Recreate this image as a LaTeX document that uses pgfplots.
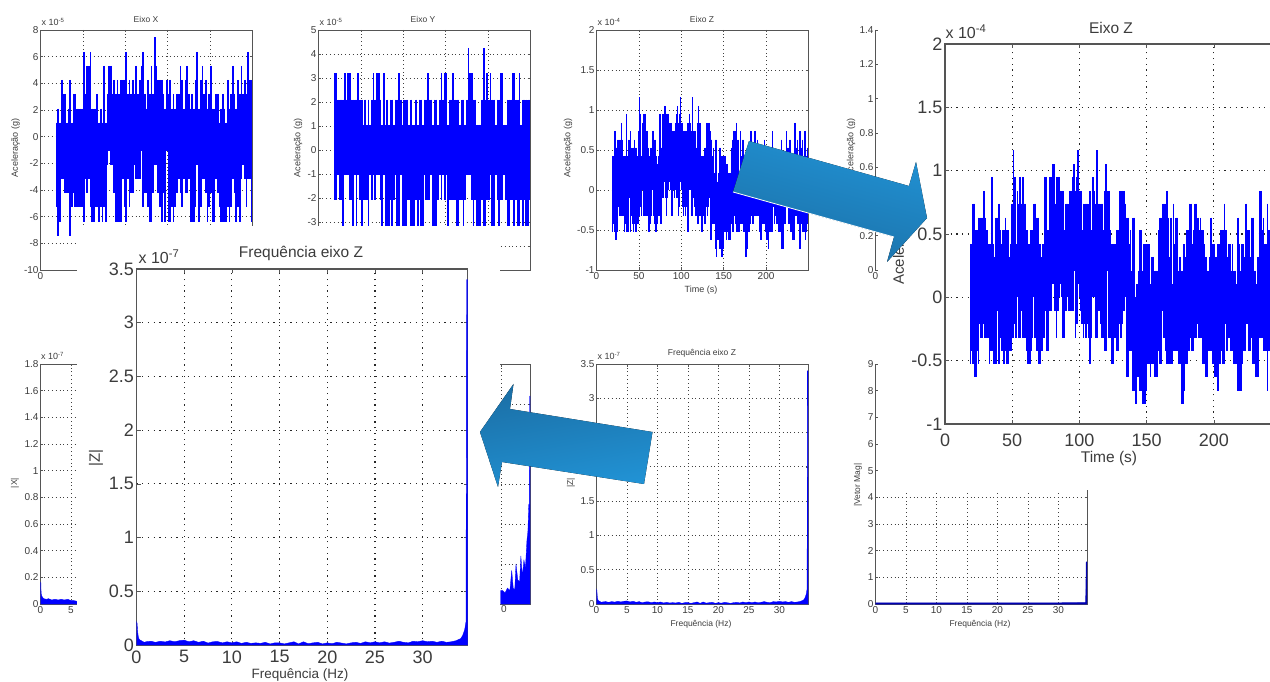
\documentclass[border=0pt]{standalone}
\usepackage{fontspec}
\setmainfont{Liberation Sans}
\usepackage{pgfplots}
\usepackage{pgfplotstable}
\pgfplotsset{compat=1.18}
\definecolor{ink}{HTML}{3C3C3C}
\definecolor{spine}{HTML}{555555}
\definecolor{arrowdark}{HTML}{1B6FA6}
\definecolor{arrowlight}{HTML}{2192D4}
\pgfplotstableread{
t hi lo
19 .42 -.53
20 .42 -.42
21 .74 -.53
22 .74 -.63
23 .53 -.63
24 .53 -.42
25 .63 -.53
26 .63 -.21
27 .63 -.32
28 .63 -.32
29 .84 -.21
30 .63 -.32
31 .53 -.32
32 .42 -.32
33 .42 -.53
34 .42 -.42
35 .95 -.42
36 .42 -.53
37 .32 -.53
38 .63 -.53
39 .63 -.105
40 .74 -.53
41 .53 -.32
42 .42 -.42
43 .53 -.42
44 .53 -.53
45 .63 -.42
46 .53 -.53
47 .53 -.53
48 .32 -.42
49 .42 -.42
50 .74 -.32
51 1.16 -.32
52 .95 -.21
53 .42 -.32
54 .84 0
55 .74 -.32
56 .95 -.32
57 .74 -.105
58 .95 -.32
59 .74 -.32
60 .74 -.32
61 .53 -.42
62 .42 -.53
63 .42 -.53
64 .53 -.42
65 .53 -.32
66 .74 0
67 .74 -.32
68 .63 -.42
69 .63 -.42
70 .42 -.53
71 .42 -.53
72 .32 -.42
73 .42 -.32
74 .95 -.32
75 .95 -.105
76 .53 -.42
77 .53 -.42
78 .95 -.105
79 .95 -.105
80 1.05 .105
81 1.05 .105
82 .74 -.105
83 .95 -.32
84 .95 -.105
85 .95 0
86 .84 .105
87 .84 0
88 .84 -.32
89 .53 -.32
90 .74 -.105
91 .74 0
92 .74 -.105
93 .84 0
94 .84 -.105
95 .95 -.105
96 1.05 .21
97 .84 -.32
98 .95 -.21
99 1.16 .105
100 .84 0
101 .84 -.105
102 .53 -.21
103 .74 -.32
104 .74 -.21
105 .74 -.32
106 .74 -.21
107 .74 -.32
108 .84 -.53
109 .53 -.32
110 .95 0
111 .84 0
112 .74 -.32
113 1.16 -.32
114 .74 -.105
115 .74 -.105
116 .74 -.21
117 .74 -.32
118 .53 -.32
119 .84 -.42
120 1.05 -.42
121 .84 .21
122 .84 -.32
123 .53 -.32
124 .42 -.53
125 .42 -.53
126 .42 -.32
127 .42 -.32
128 .53 -.42
129 .53 -.42
130 .84 -.21
131 .84 -.32
132 .84 -.21
133 .84 -.105
134 .74 0
135 .63 -.63
136 .63 -.63
137 .42 -.42
138 .53 -.42
139 .21 -.42
140 .63 -.74
141 .63 -.74
142 0 -.84
143 .105 -.63
144 .21 -.63
145 .53 -.74
146 .53 -.74
147 .21 -.84
148 .42 -.84
149 .42 -.84
150 .42 -.74
151 .42 -.53
152 .42 -.53
153 .105 -.63
154 .32 -.53
155 .32 -.53
156 .21 -.63
157 .21 -.63
158 .21 -.63
159 .53 -.42
160 .63 -.53
161 .63 -.53
162 .74 -.105
163 .74 -.32
164 .74 -.42
165 .84 -.53
166 .63 -.53
167 .32 -.53
168 .63 -.53
169 .105 -.53
170 .74 -.42
171 .42 -.42
172 .63 -.42
173 .63 -.42
174 .21 -.53
175 .32 -.53
176 .21 -.84
177 .21 -.84
178 .42 -.74
179 .32 -.53
180 .53 -.53
181 .53 -.42
182 .74 -.42
183 .74 -.32
184 .42 -.42
185 .53 -.42
186 .74 -.32
187 .74 -.32
188 .63 -.21
189 .53 -.32
190 .63 -.32
191 .53 -.32
192 .53 -.53
193 .42 -.53
194 .32 -.63
195 .21 -.63
196 .21 -.42
197 .32 -.42
198 .63 -.42
199 .42 -.53
200 .42 -.53
201 .32 -.63
202 .32 -.63
203 .42 -.74
204 .42 -.53
205 .53 -.53
206 .53 -.42
207 .53 -.53
208 .74 -.53
209 .53 -.21
210 .32 -.42
211 .42 -.32
212 .42 -.32
213 .21 -.42
214 .42 -.42
215 .21 -.53
216 .21 -.53
217 .105 -.53
218 .63 -.74
219 .42 -.74
220 .21 -.74
221 .42 -.53
222 .42 -.42
223 .32 -.42
224 .74 -.21
225 .53 -.21
226 .53 -.42
227 .32 -.42
228 .63 -.32
229 .63 -.53
230 .21 -.53
231 .21 -.63
232 .105 -.63
233 .32 -.63
234 .84 -.32
235 .84 -.32
236 .53 -.32
237 .63 -.42
238 .42 -.42
239 .42 -.42
240 .74 -.74
241 .53 -.42
242 .53 -.42
243 .63 -.53
244 .42 -.53
245 .53 -.42
246 .74 -.53
247 .53 -.63
248 .42 -.53
249 .53 -.42
}\tabZ
\pgfplotstableread{
t hi lo
19 1.05 -5.3
21 2.1 -7.45
23 1.05 -6.4
25 4.25 -3.2
27 3.2 -3.2
29 3.2 -4.25
31 1.05 -4.25
33 2.1 -4.25
35 4.25 -7.45
37 1.05 -5.3
39 3.2 -4.25
41 3.2 -5.3
43 2.1 -5.3
45 2.1 -5.3
47 2.1 -5.3
49 2.1 -5.3
51 6.35 -6.4
53 3.2 -3.2
55 5.3 -4.25
57 5.3 -3.2
59 6.35 -5.3
61 2.1 -6.4
63 2.1 -6.4
65 2.1 -5.3
67 3.2 -5.3
69 1.05 -6.4
71 2.1 -5.3
73 1.05 -6.4
75 5.3 -5.3
77 1.05 -6.4
79 3.2 -2.1
81 5.3 -1.05
83 5.3 -2.1
85 3.2 -2.1
87 4.25 -4.25
89 3.2 -6.4
91 4.25 -6.4
93 3.2 -6.4
95 4.25 -6.4
97 4.25 -3.2
99 4.25 -5.3
101 6.35 -6.4
103 3.2 -3.2
105 4.25 -5.3
107 3.2 -4.25
109 4.25 -4.25
111 3.2 -2.1
113 5.3 -3.2
115 3.2 -3.2
117 4.25 -3.2
119 5.3 -1.05
121 6.35 -5.3
123 3.2 -4.25
125 2.1 -4.25
127 4.25 -5.3
129 3.2 -6.4
131 5.3 -6.4
133 3.2 -4.25
135 7.45 -2.1
137 5.3 -2.1
139 4.25 -4.25
141 4.25 -5.3
143 4.25 -6.4
145 3.2 -4.25
147 2.1 -6.4
149 4.25 -1.05
151 3.2 -6.4
153 4.25 -6.4
155 2.1 -5.3
157 3.2 -6.4
159 2.1 -5.3
161 3.2 -4.25
163 3.2 -3.2
165 5.3 -4.25
167 4.25 -5.3
169 2.1 -3.2
171 4.25 -4.25
173 5.3 -4.25
175 3.2 -3.2
177 2.1 -6.4
179 3.2 -6.4
181 2.1 -6.4
183 4.25 -5.3
185 6.35 -2.1
187 2.1 -6.4
189 4.25 -5.3
191 5.3 -3.2
193 3.2 -3.2
195 4.25 -4.25
197 2.1 -6.4
199 3.2 -5.3
201 5.3 -4.25
203 2.1 -6.4
205 2.1 -6.4
207 3.2 -3.2
209 3.2 -4.25
211 1.05 -5.3
213 2.1 -6.4
215 3.2 -6.4
217 2.1 -6.4
219 1.05 -6.4
221 4.25 -5.3
223 2.1 -6.4
225 3.2 -5.3
227 5.3 -3.2
229 3.2 -4.25
231 2.1 -6.4
233 4.25 -5.3
235 3.2 -6.4
237 5.3 -3.2
239 3.2 -2.1
241 4.25 -3.2
243 3.2 -5.3
245 6.35 -3.2
247 4.25 -3.2
249 4.25 -6.4
}\tabX
\pgfplotstableread{
t hi lo
19 3.2 -2.1
21 3.2 -2.1
23 2.1 -1.05
25 2.1 -2.1
27 2.1 -2.1
29 2.1 -3.2
31 3.2 -1.05
33 2.1 -1.05
35 3.2 -1.05
37 3.2 -2.1
39 2.1 -2.1
41 2.1 -3.2
43 2.1 -1.05
45 2.1 -3.2
47 3.2 -1.05
49 2.1 -2.1
51 2.1 -3.2
53 1.05 -2.1
55 2.1 -2.1
57 1.05 -2.1
59 2.1 -3.2
61 1.05 -1.05
63 2.1 -2.1
65 3.2 -1.05
67 2.1 -2.1
69 3.2 -1.05
71 3.2 -1.05
73 2.1 -2.1
75 1.05 -3.2
77 3.2 -1.05
79 1.05 -3.2
81 2.1 -3.2
83 1.05 -3.2
85 2.1 -2.1
87 2.1 -3.2
89 1.05 -2.1
91 2.1 -1.05
93 2.1 -3.2
95 3.2 -3.2
97 2.1 -1.05
99 1.05 -3.2
101 2.1 -3.2
103 2.1 -3.2
105 2.1 -2.1
107 1.05 -2.1
109 2.1 -3.2
111 1.05 -3.2
113 1.05 -3.2
115 2.1 -2.1
117 1.05 -3.2
119 2.1 -2.1
121 2.1 -3.2
123 1.05 -3.2
125 2.1 -1.05
127 2.1 -2.1
129 3.2 -2.1
131 2.1 -2.1
133 2.1 -1.05
135 1.05 -3.2
137 2.1 -3.2
139 2.1 -3.2
141 1.05 -2.1
143 2.1 -1.05
145 3.2 -2.1
147 2.1 -1.05
149 3.2 -2.1
151 3.2 -1.05
153 1.05 -3.2
155 2.1 -2.1
157 2.1 -2.1
159 3.2 -2.1
161 2.1 -2.1
163 2.1 -3.2
165 2.1 -3.2
167 1.05 -2.1
169 2.1 -2.1
171 2.1 -3.2
173 1.05 -2.1
175 2.1 -1.05
177 4.25 -1.05
179 3.2 -1.05
181 3.2 -2.1
183 2.1 -3.2
185 2.1 -2.1
187 1.05 -3.2
189 1.05 -3.2
191 1.05 -3.2
193 2.1 -2.1
195 4.25 -3.2
197 2.1 -3.2
199 3.2 -2.1
201 2.1 -2.1
203 3.2 -1.05
205 2.1 -3.2
207 2.1 -3.2
209 1.05 -1.05
211 2.1 -2.1
213 2.1 -3.2
215 3.2 -2.1
217 3.2 -2.1
219 1.05 -1.05
221 1.05 -2.1
223 2.1 -3.2
225 2.1 -3.2
227 2.1 -2.1
229 3.2 -2.1
231 3.2 -3.2
233 2.1 -2.1
235 2.1 -3.2
237 3.2 -3.2
239 1.05 -2.1
241 2.1 -3.2
243 2.1 -2.1
245 2.1 -3.2
247 2.1 -3.2
249 2.1 -2.1
}\tabY
\pgfplotstableread{
f v
0 .22
.06 .2
.12 .12
.2 .07
.3 .05
.5 .04
.8 .025
1 .03
1.5 .035
2 .025
2.5 .035
3 .028
3.5 .04
4 .03
4.5 .04
5 .045
5.5 .03
6 .04
6.5 .025
7 .035
7.5 .018
8 .03
8.5 .032
9 .02
9.5 .03
10 .02
10.5 .03
11 .015
11.5 .025
12 .015
12.5 .02
13 .015
13.5 .025
14 .01
14.5 .02
15 .02
15.5 .01
16 .02
16.5 .03
17 .01
17.5 .03
18 .012
18.5 .02
19 .025
19.5 .01
20 .02
20.5 .012
21 .025
21.5 .018
22 .01
22.5 .02
23 .025
23.5 .015
24 .03
24.5 .02
25 .03
25.5 .02
26 .03
26.5 .018
27 .025
27.5 .035
28 .025
28.5 .02
29 .035
29.5 .03
30 .04
30.5 .03
31 .035
31.5 .025
32 .035
32.5 .025
33 .03
33.5 .04
34 .06
34.2 .09
34.4 .14
34.55 .22
34.6 3.4
34.7 3.4
}\tabFZ
\pgfplotstableread{
f v
0 .165
.05 .16
.1 .08
.2 .06
.5 .04
1 .035
1.3 .04
1.8 .03
2.4 .035
2.9 .03
3.4 .035
3.9 .03
4.5 .035
5 .025
5.5 .025
6 .02
}\tabFX
\pgfplotstableread{
f v
29.9 .17
30.2 .17
30.6 .14
31 .2
31.4 .17
31.7 .42
31.95 .2
32.2 .18
32.4 .5
32.7 .3
33 .28
33.2 .6
33.45 .35
33.7 .55
33.95 .45
34.2 .8
34.35 .9
34.5 1.25
34.6 1.2
34.65 2.6
34.7 2.6
}\tabFY
\pgfplotstableread{
f v
0 .04
5 .04
10 .04
15 .04
20 .04
25 .04
30 .04
34.5 .05
34.6 1.57
34.7 1.57
}\tabFM
\pgfplotsset{
  base/.style={scale only axis, clip=true, axis on top=false,
    /pgf/number format/assume math mode=true, /pgf/number format/fixed,
    scaled ticks=false, grid=major, tick align=inside,
    axis line style={spine},
    tick style={spine, line width=.5pt},
    major grid style={black!75, line width=.75pt, dash pattern=on .8pt off 3pt},
    ticklabel style={ink}},
  small/.style={base, width=211.5pt, height=240pt, major tick length=2.5pt,
    axis line style={spine,line width=.9pt},
    tick label style={font=\fontsize{10}{10}\selectfont},
    xticklabel style={yshift=1pt}, yticklabel style={xshift=1.5pt}},
  big/.style={base, axis line style={spine,line width=1.3pt}, major tick length=4pt,
    tick label style={font=\fontsize{18}{18}\selectfont},
    major grid style={black!85, line width=1.2pt, dash pattern=on 1.2pt off 4.5pt},
    yticklabel style={xshift=1pt}, xticklabel style={yshift=-6pt}},
  band/.style={draw=none, no markers,
    error bars/.cd, y dir=minus, y explicit, error mark=none,
    error bar style={blue, line width=#1}},
}
\newcommand{\Ttxt}[4]{\node[ink, inner sep=0pt, font=\fontsize{#3}{#3}\selectfont] at (#1,681-#2) {#4};}
\newcommand{\Vtxt}[4]{\node[ink, inner sep=0pt, rotate=90, font=\fontsize{#3}{#3}\selectfont] at (#1,681-#2) {#4};}
\begin{document}
\begin{tikzpicture}[x=1pt,y=1pt]
\path[use as bounding box] (0,0) rectangle (1270,681);
% ---- acceleration panels
\begin{axis}[small, at={(40.5pt,411pt)}, xmin=0, xmax=249.5, ymin=-10, ymax=8,
  xtick={0,50,100,150,200}, xticklabels={0,,,,}, ytick={-10,-8,...,8}]
\addplot[band=1.7pt] table[x=t,y=hi,y error minus expr=\thisrow{hi}-\thisrow{lo}] {\tabX};
\end{axis}
\Ttxt{146}{19}{8.5}{Eixo X}
\Ttxt{53}{22}{9}{x 10\textsuperscript{-5}}
\Vtxt{15.5}{148}{9}{Aceleração (g)}
\begin{axis}[small, at={(318.5pt,411pt)}, xmin=0, xmax=249.5, ymin=-5, ymax=5,
  xtick={50,100,150,200}, xticklabels={,,,}, ytick={-5,-4,...,5}, yticklabels={,,-3,-2,-1,0,1,2,3,4,5}]
\addplot[band=1.7pt] table[x=t,y=hi,y error minus expr=\thisrow{hi}-\thisrow{lo}] {\tabY};
\end{axis}
\Ttxt{423}{19}{8.5}{Eixo Y}
\Ttxt{331}{22}{9}{x 10\textsuperscript{-5}}
\Vtxt{298}{148}{9}{Aceleração (g)}
\begin{axis}[small, at={(596.5pt,411pt)}, xmin=0, xmax=249.5, ymin=-1, ymax=2,
  xtick={0,50,100,150,200}, ytick={-1,-.5,...,2}]
\addplot[band=1.15pt] table[x=t,y=hi,y error minus expr=\thisrow{hi}-\thisrow{lo}] {\tabZ};
\end{axis}
\Ttxt{702}{19}{8.5}{Eixo Z}
\Ttxt{609}{22}{9}{x 10\textsuperscript{-4}}
\Vtxt{568}{148}{9}{Aceleração (g)}
\Ttxt{701}{290}{9}{Time (s)}
\begin{axis}[small, at={(875.5pt,411pt)}, xmin=0, xmax=249.5, ymin=0, ymax=1.4,
  xtick={0}, ytick={0,.2,...,1.4}, grid=none]
\end{axis}
\Vtxt{851}{148}{9}{Aceleração (g)}
% ---- frequency panels
\begin{axis}[small, at={(40.5pt,77pt)}, xmin=0, xmax=34.7, ymin=0, ymax=1.8,
  xtick={0,5}, ytick={0,.2,...,1.8}]
\addplot[blue, fill=blue] table[x=f,y=v] {\tabFX} \closedcycle;
\end{axis}
\Ttxt{52.5}{356}{9}{x 10\textsuperscript{-7}}
\Vtxt{15}{483}{8.5}{|X|}
\begin{axis}[small, at={(318.5pt,77pt)}, xmin=0, xmax=34.7, ymin=0, ymax=3,
  xtick={30}, xticklabels={0}, xticklabel style={xshift=2.5pt,yshift=1pt}, ytick={0,.5,...,3}, yticklabels={}]
\addplot[blue, fill=blue, line width=.3pt] table[x=f,y=v] {\tabFY} \closedcycle;
\end{axis}
\begin{axis}[small, at={(596.5pt,77pt)}, xmin=0, xmax=34.7, ymin=0, ymax=3.5,
  xtick={0,5,...,30}, ytick={0,.5,...,3.5}]
\addplot[blue, fill=blue, line width=.3pt] table[x=f,y=v] {\tabFZ} \closedcycle;
\end{axis}
\Ttxt{702}{353}{8.5}{Frequência eixo Z}
\Ttxt{609}{356}{9}{x 10\textsuperscript{-7}}
\Vtxt{571}{483}{8.5}{|Z|}
\Ttxt{701}{624}{8.5}{Frequência (Hz)}
\begin{axis}[small, at={(875.5pt,77pt)}, xmin=0, xmax=34.7, ymin=0, ymax=9,
  xtick={0,5,...,30}, ytick={0,1,...,9}]
\addplot[blue!70!black, fill=blue!70!black, line width=.8pt] table[x=f,y=v] {\tabFM} \closedcycle;
\end{axis}
\Vtxt{858}{485}{8.5}{|Vetor Mag|}
\Ttxt{980}{624}{8.5}{Frequência (Hz)}
% ---- white panels under the enlarged plots
\fill[white] (77,455) rectangle (529.5,441);
\fill[white] (77,441) rectangle (500,0);
\fill[white] (878,681) rectangle (1270,191);
% ---- enlarged frequency plot
\begin{axis}[big, at={(136.5pt,36pt)}, width=331pt, height=376pt, xmin=0, xmax=34.7, ymin=0, ymax=3.5,
  xtick={0,5,...,30}, ytick={0,.5,...,3.5}, xticklabel style={yshift=4pt}]
\addplot[blue, fill=blue, line width=.4pt] table[x=f,y=v] {\tabFZ} \closedcycle;
\end{axis}
\Ttxt{301}{253}{15.5}{Frequência eixo Z}
\Ttxt{159}{257}{16}{x 10\textsuperscript{-7}}
\Vtxt{96}{458}{15}{|Z|}
\Ttxt{300}{674.5}{13.5}{Frequência (Hz)}
% ---- enlarged time plot
\begin{axis}[big, at={(945pt,257pt)}, width=336pt, height=380pt, xmin=0, xmax=250, ymin=-1, ymax=2,
  xtick={0,50,100,150,200}, ytick={-1,-.5,...,2}]
\addplot[band=1.7pt] table[x=t,y=hi,y error minus expr=\thisrow{hi}-\thisrow{lo}] {\tabZ};
\end{axis}
\Ttxt{1111}{28}{15.5}{Eixo Z}
\Ttxt{966}{32}{16}{x 10\textsuperscript{-4}}
\Vtxt{900}{236}{15}{Aceleração (g)}
\Ttxt{1109}{458}{15.5}{Time (s)}
% ---- arrows
\fill[top color=arrowlight, bottom color=arrowdark, shading angle=-15]
  (749,540) -- (909,495) -- (916,519) -- (927,463) -- (887,419) -- (894,444) -- (733,489) -- cycle;
\draw[white, line width=.8pt] (733,489) -- (894,444);
\fill[top color=arrowdark, bottom color=arrowlight, shading angle=10]
  (480,249) -- (513.5,297) -- (510,272) -- (652.5,249) -- (644,197) -- (502,219) -- (498,194) -- cycle;
\end{tikzpicture}
\end{document}
